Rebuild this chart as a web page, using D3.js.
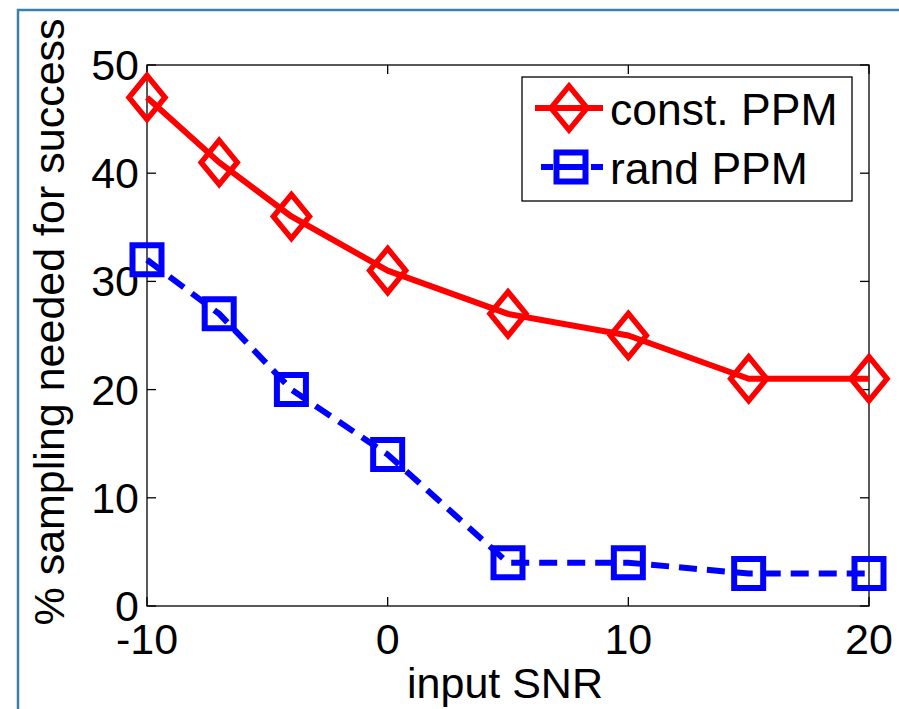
<!DOCTYPE html>
<html><head><meta charset="utf-8">
<script src="https://cdn.jsdelivr.net/npm/d3@7"></script>
<style>
html,body{margin:0;padding:0;background:#fff;}
svg{display:block;}
text{font-family:"Liberation Sans",Arial,Helvetica,sans-serif;fill:#000;}
</style></head>
<body>
<script>
const snr = [-10, -7, -4, 0, 5, 10, 15, 20];
const constPPM = [47, 41, 36, 31, 27, 25, 21, 21];
const randPPM = [32, 27, 20, 14, 4, 4, 3, 3];
const xTicks = [-10, 0, 10, 20];
const yTicks = [0, 10, 20, 30, 40, 50];
const seriesNames = ["const. PPM", "rand PPM"];

const W = 899, H = 709;
const m = {l:147, t:65, r:869, b:606};
const FS = 43;

const svg = d3.select("body").append("svg").attr("width", W).attr("height", H);
svg.append("rect").attr("width", W).attr("height", H).attr("fill", "#fff");
// outer frame
svg.append("path").attr("d", `M18,${H+5}V10H${W+5}`).attr("fill","none")
  .attr("stroke","#3a80ad").attr("stroke-width",2.5);

const x = d3.scaleLinear().domain([-10, 20]).range([m.l, m.r]);
const y = d3.scaleLinear().domain([0, 50]).range([m.b, m.t]);

const tl = 9;
// axes box
svg.append("rect").attr("x", m.l).attr("y", m.t).attr("width", m.r-m.l).attr("height", m.b-m.t)
  .attr("fill","none").attr("stroke","#000").attr("stroke-width",1.3);

const g = svg.append("g");
xTicks.forEach(v => {
  g.append("line").attr("x1",x(v)).attr("x2",x(v)).attr("y1",m.b).attr("y2",m.b-tl).attr("stroke","#000").attr("stroke-width",1.3);
  g.append("line").attr("x1",x(v)).attr("x2",x(v)).attr("y1",m.t).attr("y2",m.t+tl).attr("stroke","#000").attr("stroke-width",1.3);
  g.append("text").attr("x",x(v)).attr("y",654).attr("text-anchor","middle").attr("font-size",FS).text(v);
});
yTicks.forEach(v => {
  g.append("line").attr("x1",m.l).attr("x2",m.l+tl).attr("y1",y(v)).attr("y2",y(v)).attr("stroke","#000").attr("stroke-width",1.3);
  g.append("line").attr("x1",m.r).attr("x2",m.r-tl).attr("y1",y(v)).attr("y2",y(v)).attr("stroke","#000").attr("stroke-width",1.3);
  g.append("text").attr("x",139).attr("y",y(v)+15).attr("text-anchor","end").attr("font-size",FS).text(v);
});

svg.append("text").attr("x",(m.l+m.r)/2 - 3).attr("y",698).attr("text-anchor","middle").attr("font-size",FS).text("input SNR");
svg.append("text").attr("transform",`translate(64,322) rotate(-90)`).attr("text-anchor","middle").attr("font-size",FS).text("% sampling needed for success");

const line = d3.line().x(d => x(d[0])).y(d => y(d[1]));
const dataC = snr.map((s,i)=>[s, constPPM[i]]);
const dataR = snr.map((s,i)=>[s, randPPM[i]]);

const red = "#ff0000", blue = "#0000ff";
const diamond = (cx, cy) => `M${cx},${cy-22}L${cx+18},${cy}L${cx},${cy+22}L${cx-18},${cy}Z`;
const square = (cx, cy) => `M${cx-14.5},${cy-14.5}h29v29h-29Z`;

svg.append("path").attr("d", line(dataC)).attr("fill","none").attr("stroke",red).attr("stroke-width",6).attr("stroke-linejoin","round");
svg.selectAll(".dm").data(dataC).enter().append("path")
  .attr("d", d => diamond(x(d[0]), y(d[1]))).attr("fill","none").attr("stroke",red).attr("stroke-width",5.5);

svg.append("path").attr("d", line(dataR)).attr("fill","none").attr("stroke",blue).attr("stroke-width",6).attr("stroke-dasharray","18,10");
svg.selectAll(".sq").data(dataR).enter().append("path")
  .attr("d", d => square(x(d[0]), y(d[1]))).attr("fill","none").attr("stroke",blue).attr("stroke-width",6);

const lg = svg.append("g");
lg.append("rect").attr("x",522).attr("y",77).attr("width",330).attr("height",124)
  .attr("fill","#fff").attr("stroke","#000").attr("stroke-width",1.3);
const rows = [108, 167];
lg.append("line").attr("x1",535).attr("x2",603).attr("y1",rows[0]).attr("y2",rows[0]).attr("stroke",red).attr("stroke-width",6);
lg.append("path").attr("d", diamond(569, rows[0])).attr("fill","none").attr("stroke",red).attr("stroke-width",5.5);
lg.append("line").attr("x1",541).attr("x2",603).attr("y1",rows[1]).attr("y2",rows[1]).attr("stroke",blue).attr("stroke-width",6).attr("stroke-dasharray","12,4,30,4,14");
lg.append("path").attr("d", square(571, rows[1])).attr("fill","none").attr("stroke",blue).attr("stroke-width",6);
lg.append("text").attr("x",610).attr("y",125).attr("font-size",44.5).text(seriesNames[0]);
lg.append("text").attr("x",610).attr("y",184).attr("font-size",44.5).text(seriesNames[1]);
</script>
</body></html>
